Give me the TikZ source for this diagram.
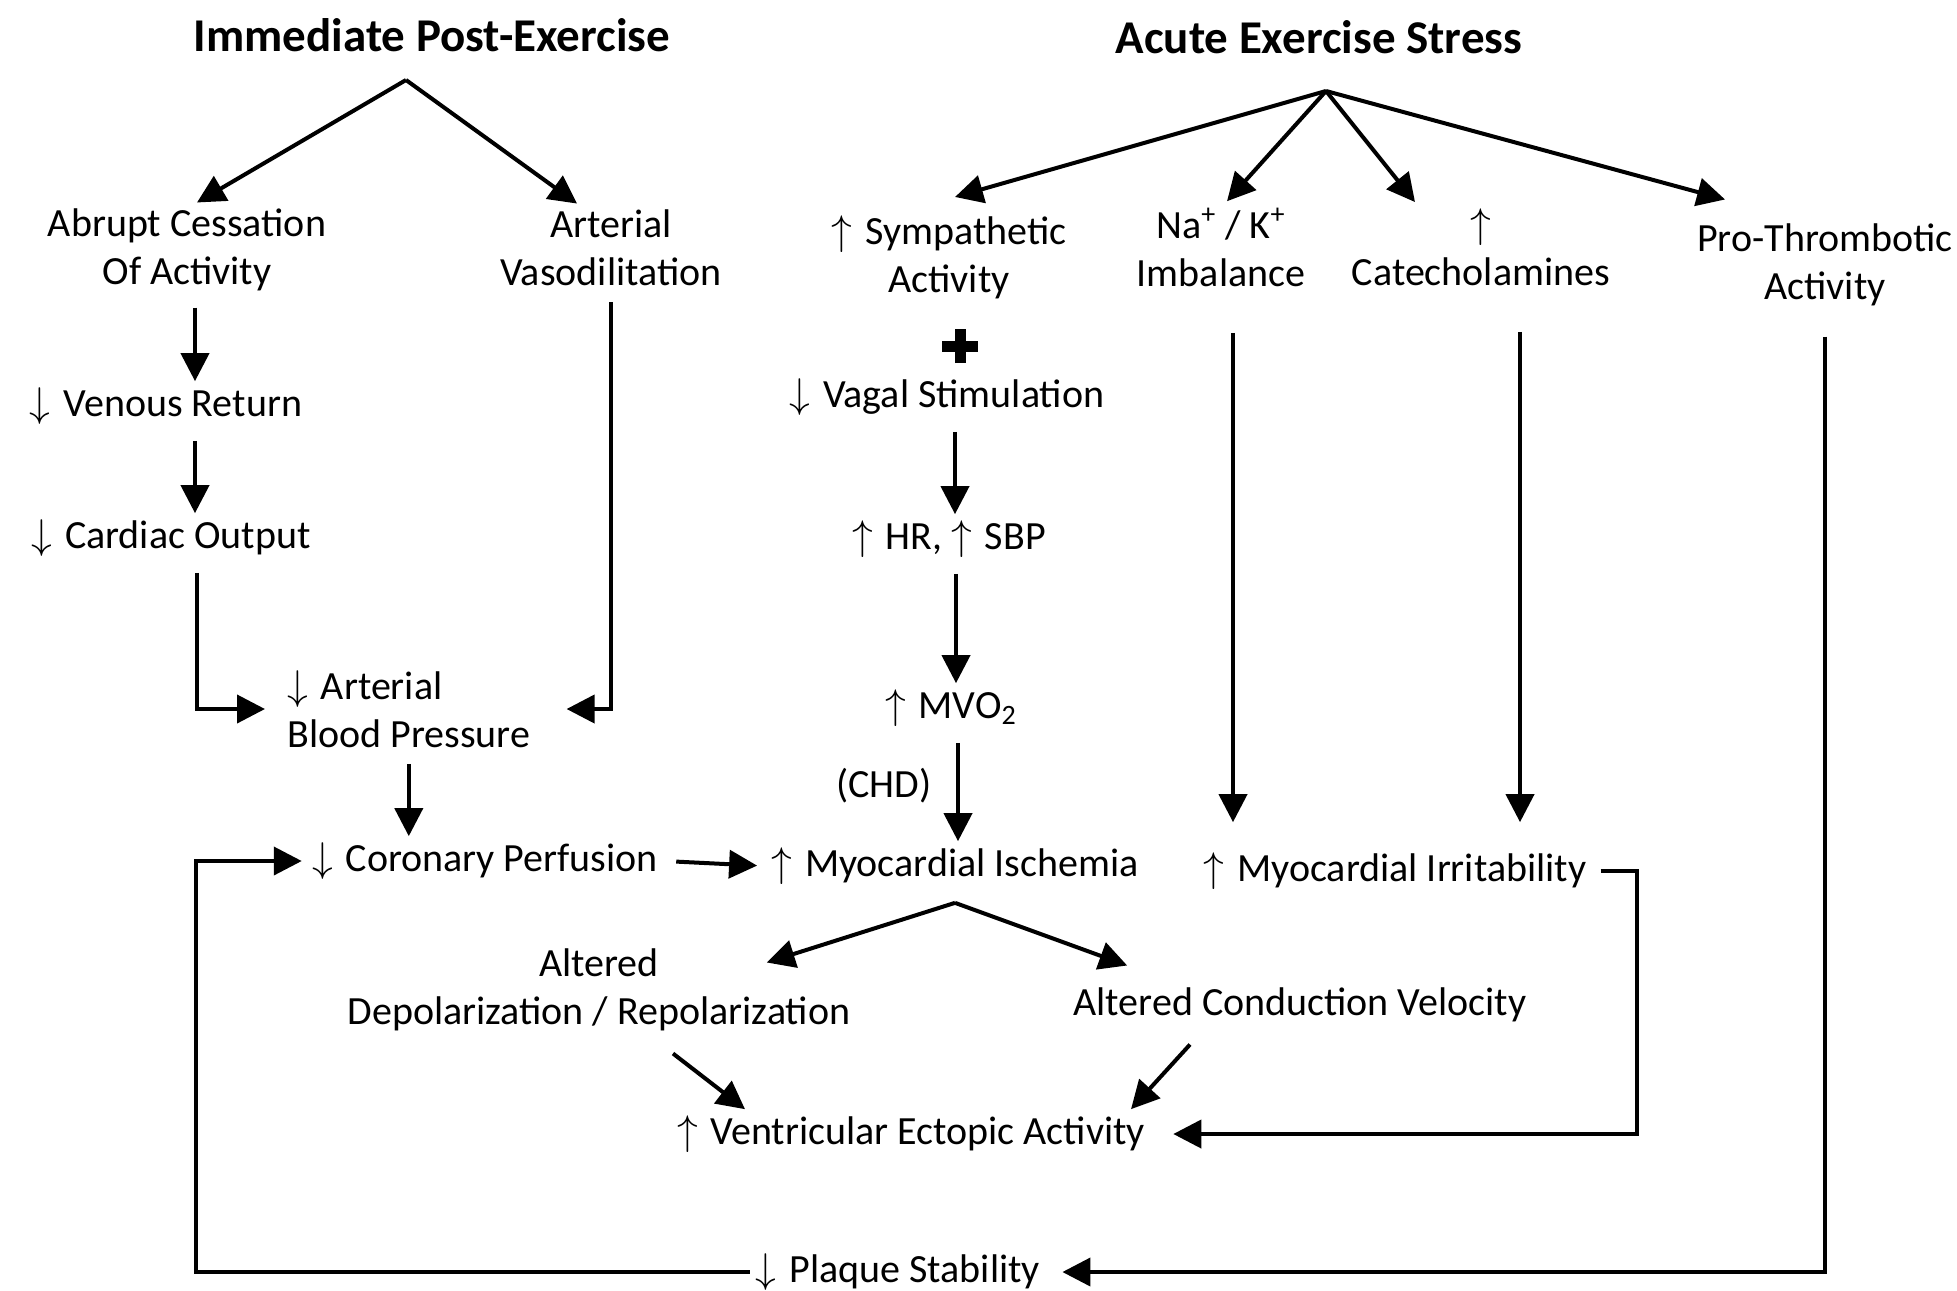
\documentclass[tikz,border=0pt]{standalone}
\usepackage{fontspec}
\setmainfont{Carlito}
\usetikzlibrary{arrows.meta,calc}

\newcommand{\up}{$\uparrow$\hspace{0.32em}}
\newcommand{\dn}{$\downarrow$\hspace{0.32em}}

\tikzset{
  txt/.style={font=\fontsize{20}{24}\selectfont, align=center, inner sep=3pt},
  ttl/.style={font=\fontsize{23.5}{28}\selectfont\bfseries, inner sep=3pt},
  arr/.style={line width=2pt, -{Triangle[length=14pt,width=14pt]}},
  dwn/.style={arr, shorten <=5pt},
  plusbar/.style={line width=5.5pt}
}

\begin{document}
\begin{tikzpicture}[x=0.5pt,y=-0.5pt]
\useasboundingbox (0,0) rectangle (1957,1290);

\node[ttl] (post) at (432,35) {Immediate Post-Exercise};
\node[ttl] (acute) at (1319,37) {Acute Exercise Stress};
\coordinate (postfork) at (406,80);
\coordinate (acutefork) at (1326,91);

\node[txt] (abrupt) at (187,250) {Abrupt Cessation\\Of Activity};
\node[txt] (vaso) at (611,248) {Arterial\\Vasodilitation};
\node[txt] (venous) at (166,406) {\dn Venous Return};
\node[txt] (cardiac) at (171,538) {\dn Cardiac Output};
\node[txt, align=left, anchor=west] (bp) at (281,709) {\dn Arterial\\Blood Pressure};
\node[txt] (coronary) at (485,861) {\dn Coronary Perfusion};

\node[txt] (symp) at (949,257) {\up Sympathetic\\Activity};
\coordinate (plus) at (960,346);
\node[txt] (vagal) at (947,397) {\dn Vagal Stimulation};
\node[txt] (hrsbp) at (949,539) {\up HR, \up SBP};
\node[txt] (mvo) at (951,708) {\up MVO\textsubscript{2}};
\node[txt] (chd) at (884,786) {(CHD)};
\node[txt] (ischemia) at (955,866) {\up Myocardial Ischemia};

\node[txt] (nak) at (1221,247) {Na\textsuperscript{+} / K\textsuperscript{+}\\Imbalance};
\node[txt] (cat) at (1481,247) {$\uparrow$\\Catecholamines};
\node[txt] (pro) at (1825,265) {Pro-Thrombotic\\Activity};
\node[txt] (irrit) at (1395,871) {\up Myocardial Irritability};

\node[txt] (depol) at (599,990) {Altered\\Depolarization / Repolarization};
\node[txt] (conduct) at (1300,1005) {Altered Conduction Velocity};
\node[txt] (vea) at (911,1134) {\up Ventricular Ectopic Activity};
\node[txt] (plaque) at (898,1272) {\dn Plaque Stability};

\draw[arr] (postfork) -- ([xshift=5pt]abrupt.north);
\draw[arr] (postfork) -- ([xshift=-17pt]vaso.north);
\draw[dwn] ([xshift=4pt]abrupt.south) -- ([xshift=4pt]abrupt.south |- venous.north);
\draw[dwn] ([xshift=4pt]abrupt.south |- venous.south) -- ([xshift=4pt]abrupt.south |- cardiac.north);
\draw[dwn] ([xshift=13pt]cardiac.south) |- ([xshift=-8pt]bp.west);
\draw[dwn] (vaso.south) |- ([xshift=15pt]bp.east);
\draw[dwn] (bp.south) -- (bp.south |- coronary.north);
\draw[arr, shorten <=6pt, shorten >=4pt] (coronary.east) -- (ischemia.west);
\draw[arr, shorten >=2pt] (plaque.west) -| ([xshift=-55pt]coronary.west) -- (coronary.west);

\draw[arr] (acutefork) -- ([xshift=3pt,yshift=6pt]symp.north);
\draw[arr] (acutefork) -- ([xshift=3pt]nak.north);
\draw[arr] (acutefork) -- ([xshift=-33pt]cat.north);
\draw[arr] (acutefork) -- ([xshift=-50pt,yshift=9pt]pro.north);

\draw[plusbar] ([xshift=-9pt]plus) -- ([xshift=9pt]plus);
\draw[plusbar] ([yshift=-8.5pt]plus) -- ([yshift=8.5pt]plus);

\draw[dwn] ([xshift=4pt]vagal.south) -- ([xshift=4pt]vagal.south |- hrsbp.north);
\draw[dwn] ([xshift=3.5pt]hrsbp.south) -- ([xshift=3.5pt]hrsbp.south |- mvo.north);
\draw[dwn] ([xshift=3.5pt]mvo.south) -- ([xshift=3.5pt]mvo.south |- ischemia.north);

\draw[dwn, shorten <=20pt, shorten >=12pt] ([xshift=6pt]nak.south) -- ([xshift=6pt]nak.south |- irrit.north);
\draw[dwn, shorten <=20pt, shorten >=12pt] ([xshift=19.5pt]cat.south) -- ([xshift=19.5pt]cat.south |- irrit.north);
\draw[arr, shorten <=4pt] (irrit.east) -- ++(44,0) |- ([xshift=11pt]vea.east);
\draw[dwn, shorten <=12pt, shorten >=8pt] (pro.south) |- (plaque.east);

\coordinate (isfork) at ([yshift=-6pt]ischemia.south);
\draw[arr] (isfork) -- ([xshift=-45pt,yshift=-10pt]depol.north east);
\draw[arr] (isfork) -- ([xshift=30pt,yshift=8pt]conduct.north west);
\draw[arr] ([xshift=37pt,yshift=-8pt]depol.south) -- ([xshift=-83pt]vea.north);
\draw[arr] ([xshift=-55pt,yshift=-8pt]conduct.south) -- ([xshift=110pt]vea.north);

\end{tikzpicture}
\end{document}
